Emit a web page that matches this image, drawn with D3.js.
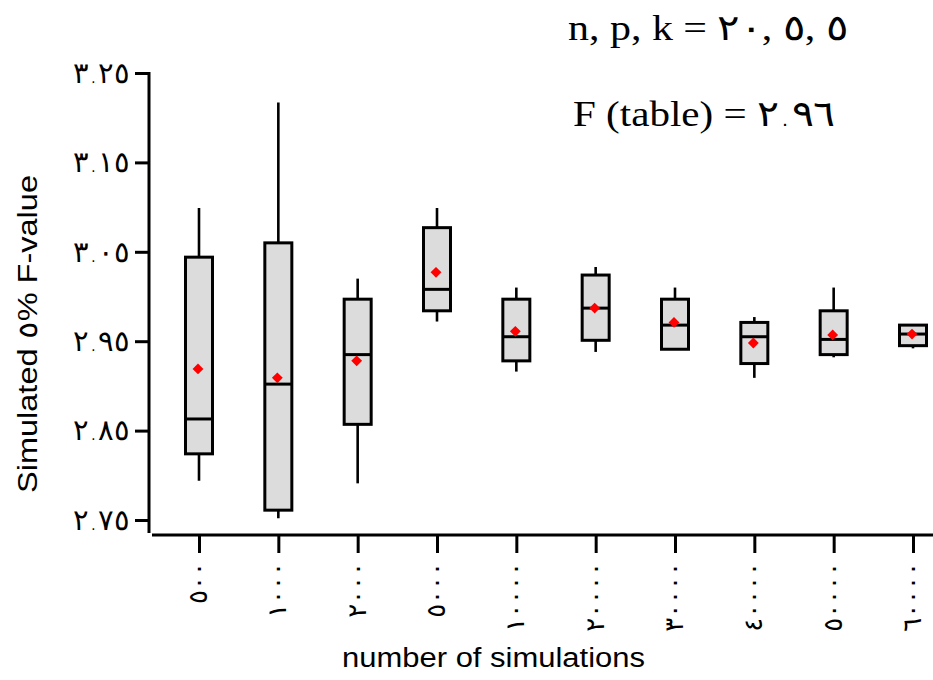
<!DOCTYPE html>
<html>
<head>
<meta charset="utf-8">
<script src="https://cdn.jsdelivr.net/npm/d3@7"></script>
<style>
  body { margin: 0; background: #fff; }
  svg { display: block; }
</style>
</head>
<body>
<div id="chart"></div>
<script>
// chart values
let categories = ["٥٠٠", "١٠٠٠", "٢٠٠٠", "٥٠٠٠", "١٠٠٠٠", "٢٠٠٠٠", "٣٠٠٠٠", "٤٠٠٠٠", "٥٠٠٠٠", "٦٠٠٠٠"];
let whiskerLow  = [2.794, 2.752, 2.791, 2.972, 2.916, 2.938, 2.941, 2.909, 2.932, 2.942];
let q1          = [2.824, 2.761, 2.857, 2.984, 2.928, 2.951, 2.941, 2.925, 2.935, 2.945];
let medians     = [2.863, 2.902, 2.935, 3.008, 2.955, 2.987, 2.968, 2.955, 2.952, 2.958];
let q3          = [3.044, 3.060, 2.997, 3.077, 2.997, 3.024, 2.997, 2.971, 2.984, 2.968];
let whiskerHigh = [3.099, 3.217, 3.020, 3.099, 3.010, 3.033, 3.010, 2.977, 3.010, 2.968];
let means       = [2.919, 2.909, 2.928, 3.027, 2.961, 2.987, 2.971, 2.948, 2.957, 2.958];

let yTicks = [2.75, 2.85, 2.95, 3.05, 3.15, 3.25];
let yTickLabels = ["٢.٧٥", "٢.٨٥", "٢.٩٥", "٣.٠٥", "٣.١٥", "٣.٢٥"];

let width = 933, height = 680;
let serif = "'Times New Roman', 'Liberation Serif', serif";
let sans = "Arial, 'Liberation Sans', sans-serif";
let digitFont = "'DejaVu Sans', serif";

let svg = d3.select("#chart")
  .append("svg")
  .attr("width", width)
  .attr("height", height);

let y = d3.scaleLinear()
  .domain([2.75, 3.25])
  .range([520, 73]);

let x = d3.scalePoint()
  .domain(categories)
  .range([199, 913]);

let data = categories.map((c, i) => ({
  cat: c, lo: whiskerLow[i], q1: q1[i], med: medians[i], q3: q3[i], hi: whiskerHigh[i], mean: means[i]
}));

// y axis
let yAxis = d3.axisLeft(y)
  .tickValues(yTicks)
  .tickFormat((d, i) => yTickLabels[i])
  .tickSize(14)
  .tickPadding(5);

let gy = svg.append("g")
  .attr("transform", "translate(149,0)")
  .call(yAxis);
gy.select(".domain").remove();
gy.append("line")
  .attr("x1", 0).attr("x2", 0)
  .attr("y1", 72).attr("y2", 533)
  .attr("stroke", "#000").attr("stroke-width", 3);
gy.selectAll(".tick line").attr("stroke", "#000").attr("stroke-width", 3);
gy.selectAll(".tick text")
  .attr("fill", "#000")
  .style("font-family", digitFont)
  .style("font-size", "29px")
  .style("font-weight", "200");

// x axis
let xAxis = d3.axisBottom(x)
  .tickSize(18)
  .tickFormat("");

let gx = svg.append("g")
  .attr("transform", "translate(0,535)")
  .call(xAxis);
gx.select(".domain").remove();
gx.append("line")
  .attr("x1", 152).attr("x2", 933)
  .attr("y1", 0).attr("y2", 0)
  .attr("stroke", "#000").attr("stroke-width", 3);
gx.selectAll(".tick line").attr("stroke", "#000").attr("stroke-width", 3);

// rotated x labels
gx.selectAll(".xlab")
  .data(categories)
  .enter()
  .append("text")
  .attr("class", "xlab")
  .attr("fill", "#000")
  .attr("transform", d => `translate(${x(d) + 8},27) rotate(-90)`)
  .attr("text-anchor", "end")
  .style("font-family", digitFont)
  .style("font-size", "26px")
  .style("letter-spacing", "1px")
  .text(d => d);

// boxes
let boxW = 27;
let boxes = svg.append("g").selectAll("g")
  .data(data)
  .enter()
  .append("g");

boxes.append("line")
  .attr("x1", d => x(d.cat)).attr("x2", d => x(d.cat))
  .attr("y1", d => y(d.hi)).attr("y2", d => y(d.lo))
  .attr("stroke", "#000").attr("stroke-width", 2.6);

boxes.append("rect")
  .attr("x", d => x(d.cat) - boxW / 2)
  .attr("y", d => y(d.q3))
  .attr("width", boxW)
  .attr("height", d => y(d.q1) - y(d.q3))
  .attr("fill", "#dcdcdc")
  .attr("stroke", "#000")
  .attr("stroke-width", 3);

boxes.append("line")
  .attr("x1", d => x(d.cat) - boxW / 2).attr("x2", d => x(d.cat) + boxW / 2)
  .attr("y1", d => y(d.med)).attr("y2", d => y(d.med))
  .attr("stroke", "#000").attr("stroke-width", 3);

boxes.append("path")
  .attr("transform", d => `translate(${x(d.cat) - 1},${y(d.mean)})`)
  .attr("d", d3.symbol(d3.symbolDiamond2, 75))
  .attr("fill", "#ff0000");

// titles (LRM keeps the Arabic digits in written order)
function digits(sel, s) {
  sel.append("tspan")
    .style("font-family", digitFont)
    .style("font-weight", "200")
    .text(s + "\u200E");
}

let t1 = svg.append("text")
  .attr("x", 568).attr("y", 40)
  .attr("textLength", 280)
  .attr("lengthAdjust", "spacingAndGlyphs")
  .style("font-family", serif)
  .style("font-size", "36px");
t1.append("tspan").text("n, p, k = ");
digits(t1, "٢٠");
t1.append("tspan").text(", ");
digits(t1, "٥");
t1.append("tspan").text(", ");
digits(t1, "٥");

let t2 = svg.append("text")
  .attr("x", 573).attr("y", 126)
  .attr("textLength", 262)
  .attr("lengthAdjust", "spacingAndGlyphs")
  .style("font-family", serif)
  .style("font-size", "36px");
t2.append("tspan").text("F (table) = ");
digits(t2, "٢.٩٦");

svg.append("text")
  .attr("x", 342).attr("y", 667)
  .attr("textLength", 303)
  .attr("lengthAdjust", "spacingAndGlyphs")
  .style("font-family", sans)
  .style("font-size", "27px")
  .text("number of simulations");

svg.append("text")
  .attr("transform", "translate(37,493) rotate(-90)")
  .attr("textLength", 318)
  .attr("lengthAdjust", "spacingAndGlyphs")
  .style("font-family", sans)
  .style("font-size", "27px")
  .text("Simulated ٥% F-value");
</script>
</body>
</html>
